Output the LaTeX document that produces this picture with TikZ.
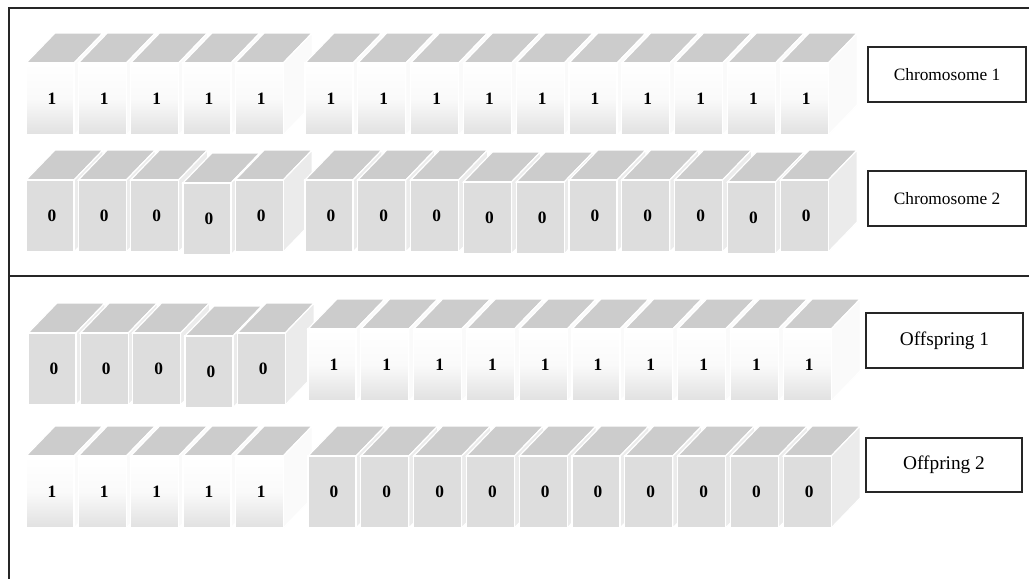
\documentclass[tikz,border=0pt]{standalone}
\usepackage{fontspec}
\setmainfont{Liberation Serif}
\tikzset{
  topf/.style={fill=gray!40, draw=white, line width=0.9pt},
  sideA/.style={fill=gray!4, draw=white, line width=0.9pt},
  frontA/.style={top color=white, bottom color=gray!24, middle color=white!96!gray, draw=white, line width=0.9pt},
  sideB/.style={fill=gray!16, draw=white, line width=0.9pt},
  frontB/.style={fill=gray!27, draw=white, line width=0.9pt},
  digit/.style={font=\fontsize{13}{13}\selectfont\bfseries, inner sep=0pt},
  frame/.style={line width=1.4pt, black!85},
  lbl/.style={draw=black!85, line width=1.4pt, fill=white, inner sep=0pt},
}
% 1-cube: #1 left x, #2 front bottom y, #3 node name
\newcommand\cubeA[3]{%
  \fill[topf] (#1,#2-72) -- (#1+29,#2-102) -- (#1+77,#2-102) -- (#1+48,#2-72) -- cycle;
  \fill[sideA] (#1+48,#2) -- (#1+48,#2-72) -- (#1+77,#2-102) -- (#1+77,#2-30) -- cycle;
  \path[frontA] (#1,#2) rectangle (#1+48,#2-72);
  \node[digit] (#3) at (#1+26,#2-36) {1};
}
% 0-cube
\newcommand\cubeB[3]{%
  \fill[topf] (#1,#2-72) -- (#1+29,#2-102) -- (#1+77,#2-102) -- (#1+48,#2-72) -- cycle;
  \fill[sideB] (#1+48,#2) -- (#1+48,#2-72) -- (#1+77,#2-102) -- (#1+77,#2-30) -- cycle;
  \path[frontB] (#1,#2) rectangle (#1+48,#2-72);
  \node[digit] (#3) at (#1+26,#2-36) {0};
}
\begin{document}
\begin{tikzpicture}[x=0.75pt,y=-0.75pt]
\useasboundingbox (0,0) rectangle (1029,579);
\fill[white] (0,0) rectangle (1029,579);
% frame
\draw[frame] (1029,8) -- (9,8) -- (9,579);
\draw[frame] (9,276) -- (1029,276);
% Row 1: Chromosome 1
\foreach \i in {0,...,4}{\pgfmathsetmacro\xx{26+52.3*\i}\cubeA{\xx}{135}{ra\i}}
\foreach \i in {0,...,9}{\pgfmathsetmacro\xx{305+52.8*\i}\cubeA{\xx}{135}{rb\i}}
% Row 2: Chromosome 2
\foreach \i/\d in {0/0,1/0,2/0,3/3,4/0}{\pgfmathsetmacro\xx{26+52.3*\i}\cubeB{\xx}{252+\d}{sa\i}}
\foreach \i/\d in {0/0,1/0,2/0,3/2,4/2,5/0,6/0,7/0,8/2,9/0}{\pgfmathsetmacro\xx{305+52.8*\i}\cubeB{\xx}{252+\d}{sb\i}}
% Row 3: Offspring 1
\foreach \i/\d in {0/0,1/0,2/0,3/3,4/0}{\pgfmathsetmacro\xx{28+52.3*\i}\cubeB{\xx}{405+\d}{ta\i}}
\foreach \i in {0,...,9}{\pgfmathsetmacro\xx{308+52.8*\i}\cubeA{\xx}{401}{tb\i}}
% Row 4: Offspring 2
\foreach \i in {0,...,4}{\pgfmathsetmacro\xx{26+52.3*\i}\cubeA{\xx}{528}{ua\i}}
\foreach \i in {0,...,9}{\pgfmathsetmacro\xx{308+52.8*\i}\cubeB{\xx}{528}{ub\i}}
% labels
\node[lbl, minimum width=118.5pt, minimum height=41pt, font=\fontsize{13}{13}\selectfont] (ch1) at (947,74.5) {Chromosome 1};
\node[lbl, minimum width=118.5pt, minimum height=41pt, font=\fontsize{13}{13}\selectfont] (ch2) at (947,198.5) {Chromosome 2};
\node[lbl, minimum width=117.75pt, minimum height=41pt, font=\fontsize{14.5}{14.5}\selectfont] (of1) at (944.5,340.5) {Offspring 1};
\node[lbl, minimum width=117pt, minimum height=40.5pt, font=\fontsize{14.5}{14.5}\selectfont] (of2) at (944,465) {Offpring 2};
\end{tikzpicture}
\end{document}
